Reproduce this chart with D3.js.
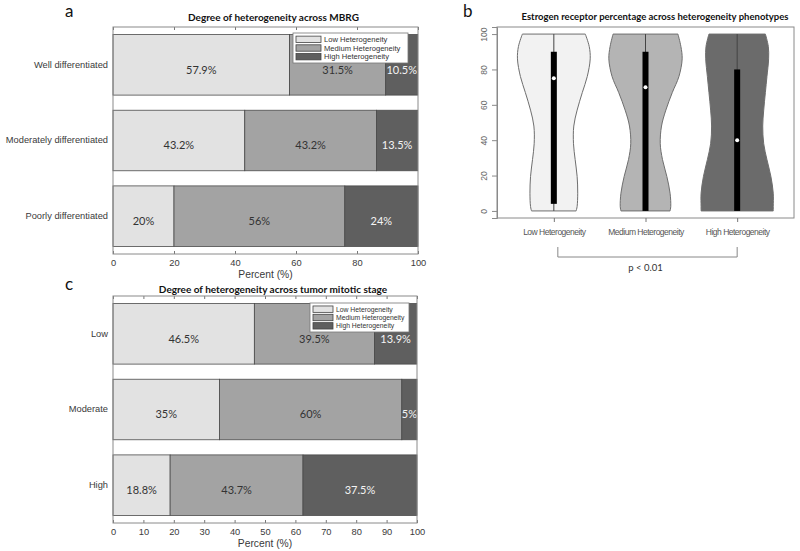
<!DOCTYPE html>
<html>
<head>
<meta charset="utf-8">
<script src="https://cdn.jsdelivr.net/npm/d3@7"></script>
<style>
  body { margin: 0; background: #fff; }
  svg { display: block; }
</style>
</head>
<body>
<script>
// ---- panel a: heterogeneity across MBRG
var mbrgGroups = ["Well differentiated", "Moderately differentiated", "Poorly differentiated"];
var mbrgLow = [57.9, 43.2, 20];
var mbrgMedium = [31.5, 43.2, 56];
var mbrgHigh = [10.5, 13.5, 24];
var mbrgTicks = [0, 20, 40, 60, 80, 100];

// ---- panel c: heterogeneity across mitotic stage
var mitoticGroups = ["Low", "Moderate", "High"];
var mitoticLow = [46.5, 35, 18.8];
var mitoticMedium = [39.5, 60, 43.7];
var mitoticHigh = [13.9, 5, 37.5];
var mitoticTicks = [0, 10, 20, 30, 40, 50, 60, 70, 80, 90, 100];

var phenotypes = ["Low Heterogeneity", "Medium Heterogeneity", "High Heterogeneity"];

// ---- panel b: ER % violins (density, relative units)
var erLevels = [0, 2.5, 10, 19.5, 29, 38, 48, 57, 67, 76, 86, 93, 100];
var erDensityLow = [22.7, 23.7, 24.3, 23.7, 21.7, 20, 20.3, 23.7, 29, 34, 37, 36, 32];
var erDensityMedium = [25, 25.7, 25, 21.7, 17.3, 15, 16.3, 20.7, 27.3, 34, 37.3, 36, 33];
var erDensityHigh = [36.7, 36.7, 36.7, 34.3, 30.3, 27, 26, 27, 28.7, 30.3, 32, 31.7, 28.7];
var erMin = [0, 0, 0];
var erQ1 = [4, 0, 0];
var erMedian = [75, 70, 40];
var erQ3 = [90, 90, 80];
var erMax = [100, 100, 100];
var erTicks = [0, 20, 40, 60, 80, 100];

var keys = ["low", "medium", "high"];
var fills = ["#e2e2e2", "#a3a3a3", "#5f5f5f"];
var labelColors = ["#333", "#333", "#f4f4f4"];
var violinFills = ["#f2f2f2", "#b4b4b4", "#6b6b6b"];

var svg = d3.select("body").append("svg")
  .attr("width", 800)
  .attr("height", 551);

svg.append("rect").attr("width", 800).attr("height", 551).attr("fill", "#fff");

drawStacked({
  letter: "a", letterY: 17,
  title: "Degree of heterogeneity across MBRG", titleY: 21,
  groups: mbrgGroups, low: mbrgLow, medium: mbrgMedium, high: mbrgHigh,
  ticks: mbrgTicks,
  left: 113, right: 418, top: 27, bottom: 254,
  legend: {x: 293, y: 33, w: 115, h: 30, sw: 25, fs: 7.6}
});

drawStacked({
  letter: "c", letterY: 290,
  title: "Degree of heterogeneity across tumor mitotic stage", titleY: 293,
  groups: mitoticGroups, low: mitoticLow, medium: mitoticMedium, high: mitoticHigh,
  ticks: mitoticTicks,
  left: 113, right: 417, top: 296, bottom: 523,
  legend: {x: 310, y: 303, w: 99, h: 29, sw: 20, fs: 6.8}
});

drawViolins();

function drawStacked(o) {
  var g = svg.append("g");

  var x = d3.scaleLinear().domain([0, 100]).range([o.left, o.right]);
  var y = d3.scaleBand()
    .domain(o.groups)
    .range([o.top, o.bottom])
    .paddingInner(0.2)
    .paddingOuter(0.1);

  var rows = o.groups.map(function(name, i) {
    return {group: name, low: o.low[i], medium: o.medium[i], high: o.high[i]};
  });
  var series = d3.stack().keys(keys)(rows);

  series.forEach(function(s, k) {
    g.selectAll(null)
      .data(s)
      .enter().append("rect")
        .attr("x", d => x(d[0]))
        .attr("y", d => y(d.data.group))
        .attr("width", d => x(d[1]) - x(d[0]))
        .attr("height", y.bandwidth())
        .attr("fill", fills[k])
        .attr("stroke", "#4a4a4a")
        .attr("stroke-width", 0.8);

    g.selectAll(null)
      .data(s)
      .enter().append("text")
        .attr("x", d => x((d[0] + d[1]) / 2))
        .attr("y", d => y(d.data.group) + y.bandwidth() / 2 + 5)
        .attr("dy", "0.35em")
        .attr("text-anchor", "middle")
        .attr("font-family", "Lato, 'Open Sans', sans-serif")
        .attr("font-size", 11)
        .attr("fill", labelColors[k])
        .text(d => d.data[keys[k]] + "%");
  });

  // bottom axis, ticks inside (matlab style)
  var bottomAxis = g.append("g")
    .attr("transform", "translate(0," + o.bottom + ")")
    .call(d3.axisBottom(x).tickValues(o.ticks).tickSizeInner(-3).tickSizeOuter(0).tickPadding(5));
  var topAxis = g.append("g")
    .attr("transform", "translate(0," + o.top + ")")
    .call(d3.axisTop(x).tickValues(o.ticks).tickSizeInner(-3).tickSizeOuter(0).tickFormat(""));
  var leftAxis = g.append("g")
    .attr("transform", "translate(" + o.left + ",0)")
    .call(d3.axisLeft(y).tickSize(0).tickPadding(5));

  [bottomAxis, topAxis, leftAxis].forEach(function(a) {
    a.select(".domain").remove();
    a.selectAll("line").attr("stroke", "#777");
    a.selectAll("text")
      .attr("font-family", "'Liberation Sans', Arial, sans-serif")
      .attr("font-size", 9.3)
      .attr("fill", "#3a3a3a");
  });

  g.append("rect")
    .attr("x", o.left).attr("y", o.top)
    .attr("width", o.right - o.left).attr("height", o.bottom - o.top)
    .attr("fill", "none")
    .attr("stroke", "#8a8a8a");

  g.append("text")
    .attr("x", (o.left + o.right) / 2)
    .attr("y", o.bottom + 24)
    .attr("text-anchor", "middle")
    .attr("font-family", "'Liberation Sans', Arial, sans-serif")
    .attr("font-size", 10.3)
    .attr("fill", "#3a3a3a")
    .text("Percent (%)");

  g.append("text")
    .attr("x", (o.left + o.right) / 2 + 8)
    .attr("y", o.titleY)
    .attr("text-anchor", "middle")
    .attr("font-family", "Lato, 'Open Sans', sans-serif")
    .attr("font-weight", "bold")
    .attr("font-size", 10)
    .attr("fill", "#111")
    .text(o.title);

  g.append("text")
    .attr("x", 65)
    .attr("y", o.letterY)
    .attr("font-family", "Lato, 'Open Sans', sans-serif")
    .attr("font-size", 17)
    .attr("fill", "#111")
    .text(o.letter);

  // legend
  var L = o.legend;
  var lg = g.append("g").attr("transform", "translate(" + L.x + "," + L.y + ")");
  lg.append("rect")
    .attr("width", L.w).attr("height", L.h)
    .attr("fill", "#fff").attr("stroke", "#777").attr("stroke-width", 0.8);
  var rowH = (L.h - 4) / 3;
  phenotypes.forEach(function(p, i) {
    var cy = 2 + rowH * (i + 0.5);
    lg.append("rect")
      .attr("x", 3).attr("y", cy - 3.2)
      .attr("width", L.sw).attr("height", 6.4)
      .attr("fill", fills[i]).attr("stroke", "#444").attr("stroke-width", 0.8);
    lg.append("text")
      .attr("x", L.sw + 6).attr("y", cy)
      .attr("dy", "0.35em")
      .attr("font-family", "'Liberation Sans', Arial, sans-serif")
      .attr("font-size", L.fs)
      .attr("fill", "#333")
      .text(p);
  });
}

function drawViolins() {
  var g = svg.append("g");
  var left = 497, right = 794, top = 27, bottom = 218;

  var x = d3.scaleLinear().domain([0.38, 3.62]).range([left, right]);
  var y = d3.scaleLinear().domain([-4, 104]).range([bottom, top]);
  var densities = [erDensityLow, erDensityMedium, erDensityHigh];
  var maxD = d3.max(densities, a => d3.max(a));
  var w = d3.scaleLinear().domain([0, maxD]).range([0, 0.4]);

  densities.forEach(function(dens, i) {
    var c = i + 1;
    var pts = erLevels.map((lv, j) => ({level: lv, d: dens[j]}));
    var area = d3.area()
      .curve(d3.curveCatmullRom)
      .y(d => y(d.level))
      .x0(d => x(c - w(d.d)))
      .x1(d => x(c + w(d.d)));
    g.append("path")
      .datum(pts)
      .attr("d", area)
      .attr("fill", violinFills[i])
      .attr("stroke", "#6e6e6e")
      .attr("stroke-width", 1);

    g.append("line")
      .attr("x1", x(c)).attr("x2", x(c))
      .attr("y1", y(erMin[i])).attr("y2", y(erMax[i]))
      .attr("stroke", "#444").attr("stroke-width", 1);
    g.append("rect")
      .attr("x", x(c) - 3).attr("width", 6)
      .attr("y", y(erQ3[i])).attr("height", y(erQ1[i]) - y(erQ3[i]))
      .attr("fill", "#000");
    g.append("circle")
      .attr("cx", x(c)).attr("cy", y(erMedian[i]))
      .attr("r", 2)
      .attr("fill", "#fff");
  });

  g.append("rect")
    .attr("x", left).attr("y", top)
    .attr("width", right - left).attr("height", bottom - top)
    .attr("fill", "none").attr("stroke", "#8a8a8a");

  var yAxis = g.append("g")
    .attr("transform", "translate(" + left + ",0)")
    .call(d3.axisLeft(y).tickValues(erTicks).tickSize(5).tickFormat(""));
  yAxis.select(".domain").attr("stroke", "#8a8a8a");
  yAxis.selectAll("line").attr("stroke", "#8a8a8a");
  yAxis.selectAll(".tick").append("text")
    .attr("transform", "translate(-13,0) rotate(-90)")
    .attr("text-anchor", "middle")
    .attr("dy", "0.35em")
    .attr("font-family", "'Liberation Sans', Arial, sans-serif")
    .attr("font-size", 8.5)
    .attr("fill", "#666")
    .text(d => d);

  var xAxis = g.append("g")
    .attr("transform", "translate(0," + bottom + ")")
    .call(d3.axisBottom(x).tickValues([1, 2, 3]).tickFormat((d, i) => phenotypes[i]).tickSize(4).tickPadding(7));
  xAxis.select(".domain").remove();
  xAxis.selectAll("line").attr("stroke", "#777");
  xAxis.selectAll("text")
    .attr("font-family", "'Liberation Sans Narrow', 'Liberation Sans', Arial, sans-serif")
    .attr("font-size", 8.5)
    .attr("letter-spacing", "-0.5px")
    .attr("fill", "#555");

  // significance bracket between low and high
  g.append("path")
    .attr("d", d3.line()([[x(1) + 4, 247], [x(1) + 4, 257], [x(3), 257], [x(3), 247]]))
    .attr("fill", "none")
    .attr("stroke", "#888");
  g.append("text")
    .attr("x", x(2)).attr("y", 271)
    .attr("text-anchor", "middle")
    .attr("font-family", "Lato, 'Open Sans', sans-serif")
    .attr("font-size", 9.5)
    .attr("fill", "#333")
    .text("p < 0.01");

  g.append("text")
    .attr("x", 655).attr("y", 20)
    .attr("text-anchor", "middle")
    .attr("font-family", "Lato, 'Open Sans', sans-serif")
    .attr("font-weight", "bold")
    .attr("font-size", 9.5)
    .attr("fill", "#111")
    .text("Estrogen receptor percentage across heterogeneity phenotypes");

  g.append("text")
    .attr("x", 463).attr("y", 17)
    .attr("font-family", "Lato, 'Open Sans', sans-serif")
    .attr("font-size", 17)
    .attr("fill", "#111")
    .text("b");
}
</script>
</body>
</html>
